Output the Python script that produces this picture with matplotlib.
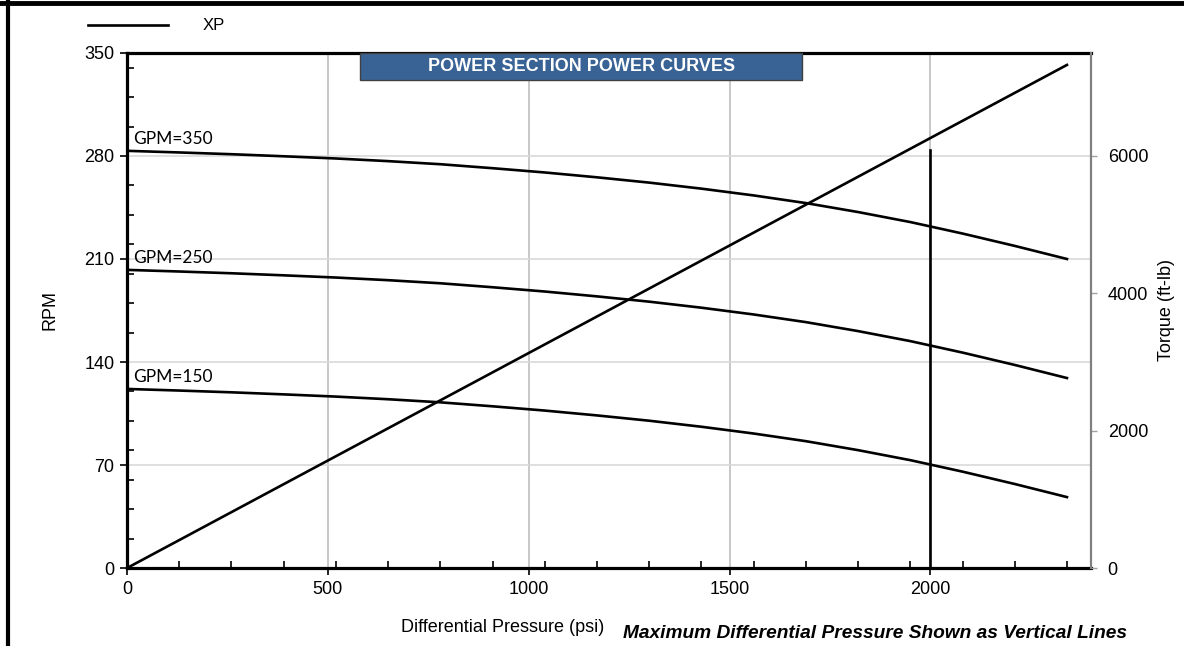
import matplotlib
matplotlib.use("Agg")
import matplotlib.pyplot as plt
from matplotlib.lines import Line2D
from matplotlib.patches import Rectangle
from matplotlib.ticker import FixedLocator, MultipleLocator

plt.rcParams["font.family"] = ["Liberation Sans", "DejaVu Sans"]

# differential pressure (psi), one point every 130 psi
pressure = [0, 130, 260, 390, 520, 650, 780, 910, 1040, 1170, 1300,
            1430, 1560, 1690, 1820, 1950, 2080, 2210, 2340]

rpm_gpm350 = [283.5, 282.4, 281.2, 279.8, 278.3, 276.5, 274.4, 271.7, 268.8, 265.5,
              261.9, 257.8, 253.2, 248.0, 241.9, 235.1, 227.3, 218.9, 210.0]
rpm_gpm250 = [202.6, 201.5, 200.3, 198.9, 197.4, 195.6, 193.5, 190.8, 187.9, 184.6,
              181.0, 176.9, 172.3, 167.1, 161.0, 154.2, 146.4, 138.0, 129.1]
rpm_gpm150 = [121.7, 120.6, 119.4, 118.0, 116.5, 114.7, 112.6, 109.9, 107.0, 103.7,
              100.1, 96.0, 91.4, 86.2, 80.1, 73.3, 65.5, 57.1, 48.2]
curve_labels = ["GPM=350", "GPM=250", "GPM=150"]

torque = [0, 407, 814, 1221, 1628, 2035, 2442, 2849, 3256, 3663, 4070,
          4477, 4884, 5291, 5698, 6105, 6512, 6919, 7326]

max_pressure = [2000, 2000]
max_rpm = [0, 284]

rpm_ticks = [0, 70, 140, 210, 280, 350]
pressure_ticks = [0, 500, 1000, 1500, 2000]
torque_ticks = [0, 2000, 4000, 6000]

FS = 13
fig = plt.figure(figsize=(11.84, 6.46), dpi=100)
ax = fig.add_axes([0.1073, 0.1207, 0.8142, 0.7973])
ax2 = ax.twinx()

# grid
for p in pressure_ticks[1:]:
    ax.axvline(p, color="#BFBFBF", lw=1.2, zorder=0)
for r in rpm_ticks[1:-1]:
    ax.axhline(r, color="#D9D9D9", lw=1.2, zorder=0)

lw = 1.9
for ys, lab in zip([rpm_gpm350, rpm_gpm250, rpm_gpm150], curve_labels):
    ax.plot(pressure, ys, color="black", lw=lw, zorder=3)
    ax.text(pressure[0] + 14, ys[0] + 2.5, lab, fontsize=12.5, family=["Lato", "DejaVu Sans"],
            va="bottom", ha="left", zorder=4)
ax.plot(max_pressure, max_rpm, color="black", lw=lw, zorder=3)
ax2.plot(pressure, torque, color="black", lw=lw, zorder=3)

ax.set_xlim(0, 2400)
ax.set_ylim(0, 350)
ax2.set_ylim(0, 7500)

ax.set_xticks(pressure_ticks)
ax.xaxis.set_minor_locator(FixedLocator(pressure))
ax.set_yticks(rpm_ticks)
ax.yaxis.set_minor_locator(MultipleLocator(20))
ax2.set_yticks(torque_ticks)

ax.tick_params(axis="both", which="major", direction="out", length=5, width=1.2,
               labelsize=FS, color="black", pad=4)
ax.tick_params(axis="both", which="minor", direction="in", length=5, width=1.2, color="black")
ax2.tick_params(axis="y", which="major", direction="out", length=4, width=1,
                color="#A0A0A0", labelsize=FS, pad=8)

for side in ["left", "bottom", "top"]:
    ax.spines[side].set_linewidth(2.3)
    ax.spines[side].set_color("black")
ax.spines["right"].set_visible(False)
for side in ["left", "bottom", "top"]:
    ax2.spines[side].set_visible(False)
ax2.spines["right"].set_color("#808080")
ax2.spines["right"].set_linewidth(1.6)

ax.set_ylabel("RPM", fontsize=FS)
ax.yaxis.set_label_coords(-0.071, 0.5)
ax2.set_ylabel("Torque (ft-lb)", fontsize=FS)
ax2.yaxis.set_label_coords(1.069, 0.5)
ax.set_xlabel("Differential Pressure (psi)", fontsize=FS)
ax.xaxis.set_label_coords(0.39, -0.099)

# title box
ax.add_patch(Rectangle((0.2417, 0.9476), 0.4585, 0.0524, transform=ax.transAxes,
                       facecolor="#3A6395", edgecolor="#404040", lw=1.0,
                       clip_on=False, zorder=10))
ax.text(0.471, 0.9738, "POWER SECTION POWER CURVES", transform=ax.transAxes,
        color="white", fontsize=13, fontweight="bold", ha="center", va="center", zorder=11)

# legend
fig.add_artist(Line2D([0.0743, 0.1419], [0.9613, 0.9613], color="black", lw=lw))
fig.text(0.1715, 0.9613, "XP", fontsize=12, va="center", ha="left")

# footnote
fig.text(0.952, 0.0186, "Maximum Differential Pressure Shown as Vertical Lines",
         fontsize=13.8, fontweight="bold", style="italic", ha="right", va="center")

# outer frame (top and left edges)
fig.add_artist(Line2D([0, 1], [0.9955, 0.9955], color="black", lw=3.5))
fig.add_artist(Line2D([0.0065, 0.0065], [0, 1], color="black", lw=3.0))

fig.savefig("out.png", dpi=100)
